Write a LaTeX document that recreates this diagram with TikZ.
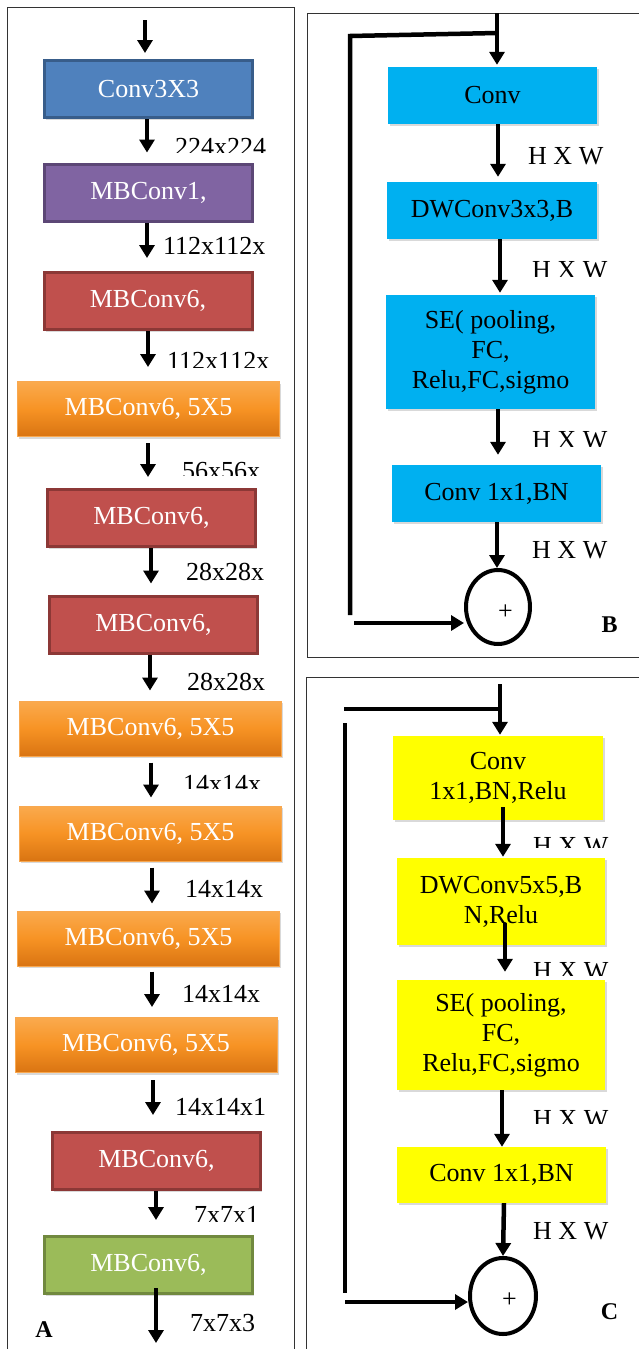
\documentclass[tikz,border=0pt]{standalone}
\usepackage{fontspec}
\setmainfont{Liberation Serif}
\usetikzlibrary{arrows.meta,shadows,shapes.geometric,calc}
\definecolor{abluef}{HTML}{4F81BD}\definecolor{abluel}{HTML}{385D8A}
\definecolor{apurf}{HTML}{8064A2}\definecolor{apurl}{HTML}{5C4776}
\definecolor{aredf}{HTML}{C0504D}\definecolor{aredl}{HTML}{8C3836}
\definecolor{agrnf}{HTML}{9BBB59}\definecolor{agrnl}{HTML}{71893F}
\definecolor{otop}{HTML}{FAAA4E}\definecolor{omid}{HTML}{F79324}\definecolor{obot}{HTML}{D97412}\definecolor{oline}{HTML}{F8A850}
\definecolor{bcyan}{HTML}{00B0F0}\definecolor{cyel}{HTML}{FFFF00}
\definecolor{framec}{HTML}{333333}
\newcommand{\mylab}[4]{\node[lab] (#1) at (#2,#3) {#4};}
\newcommand{\myclab}[5]{\begin{scope}\clip (#2-10,#3-40) rectangle (#2+140,#4);\node[lab] (#1) at (#2,#3) {#5};\end{scope}}
\begin{document}
\begin{tikzpicture}[x=1pt,y=-1pt,
  every node/.style={font=\fontsize{26}{30}\selectfont},
  frame/.style={draw=framec,line width=1pt},
  shad/.style={drop shadow={opacity=0.3,shadow xshift=1.5pt,shadow yshift=-2pt}},
  sqbox/.style={shad,line width=3pt,inner sep=0pt,text=white,minimum width=208pt,minimum height=57pt},
  bluebox/.style={sqbox,fill=abluef,draw=abluel},
  purbox/.style={sqbox,fill=apurf,draw=apurl},
  redbox/.style={sqbox,fill=aredf,draw=aredl},
  grnbox/.style={sqbox,fill=agrnf,draw=agrnl},
  orbox/.style={shad,top color=otop,bottom color=obot,middle color=omid,draw=oline,line width=1pt,inner sep=0pt,text=white,minimum width=262pt,minimum height=55pt},
  cyanbox/.style={shad,fill=bcyan,inner sep=0pt,align=center,minimum width=209pt,minimum height=57pt},
  yelbox/.style={shad,fill=cyel,inner sep=0pt,align=center,minimum width=209pt,minimum height=57pt},
  sumnode/.style={draw,ellipse,line width=4pt,inner sep=0pt},
  plusnode/.style={font=\fontsize{26}{30}\selectfont,inner sep=0pt},
  lab/.style={anchor=west,inner sep=0pt},
  panel/.style={font=\fontsize{24}{28}\selectfont\bfseries,inner sep=0pt},
  arr/.style={line width=4.5pt,-{Triangle[width=15pt,length=13pt]}},
  skipline/.style={line width=4.5pt}
]
\useasboundingbox (0,0) rectangle (639,1349);
% frames
\draw[frame] (7.5,7.5) rectangle (294,1365);
\draw[frame] (307,13) rectangle (655,657);
\draw[frame] (306,677) rectangle (655,1365);

% ---------- Panel A ----------
\node[bluebox] (a1) at (148.5,89) {Conv3X3};
\node[purbox] (a2) at (148.5,192.5) {MBConv1,};
\node[redbox] (a3) at (148,301) {MBConv6,};
\node[orbox] (a4) at (148.5,409) {MBConv6, 5X5};
\node[redbox] (a5) at (151.5,518) {MBConv6,};
\node[redbox] (a6) at (153.5,624.5) {MBConv6,};
\node[orbox] (a7) at (150.5,728.5) {MBConv6, 5X5};
\node[orbox] (a8) at (150.5,833.5) {MBConv6, 5X5};
\node[orbox] (a9) at (148.5,938.5) {MBConv6, 5X5};
\node[orbox] (a10) at (146,1045) {MBConv6, 5X5};
\node[redbox] (a11) at (156.5,1161) {MBConv6,};
\node[grnbox] (a12) at (148.5,1265) {MBConv6,};

\myclab{la1}{175}{147}{152}{224x224}
\mylab{la2}{163}{246}{112x112x}
\myclab{la3}{167}{361}{367}{112x112x}
\myclab{la4}{182}{471}{475}{56x56x}
\mylab{la5}{186}{572}{28x28x}
\mylab{la6}{187}{682}{28x28x}
\myclab{la7}{183}{784}{788}{14x14x}
\mylab{la8}{185}{889}{14x14x}
\mylab{la9}{182}{994}{14x14x}
\mylab{la10}{175}{1107}{14x14x1}
\myclab{la11}{194}{1215}{1221}{7x7x1}
\mylab{la12}{190}{1323.5}{7x7x3}

\coordinate (ain) at (145,20);
\draw[arr] (ain) -- ([xshift=-3.5pt,yshift=6pt]a1.north);
\draw[arr] ([xshift=-1.5pt]a1.south) -- ([xshift=-1.5pt,yshift=10pt]a2.north);
\draw[arr] ([xshift=-1.5pt]a2.south) -- ([xshift=-1pt,yshift=13pt]a3.north);
\draw[arr] (a3.south) -- ([xshift=-0.5pt,yshift=14pt]a4.north);
\draw[arr] ([xshift=-0.5pt,yshift=-6pt]a4.south) -- ([xshift=-3.5pt,yshift=11pt]a5.north);
\draw[arr] ([xshift=-0.5pt]a5.south) -- ([xshift=-2.5pt,yshift=11pt]a6.north);
\draw[arr] ([xshift=-3.5pt]a6.south) -- ([xshift=-0.5pt,yshift=10pt]a7.north);
\draw[arr] ([xshift=0.5pt,yshift=-6pt]a7.south) -- ([xshift=0.5pt,yshift=8pt]a8.north);
\draw[arr] ([xshift=1.5pt,yshift=-6pt]a8.south) -- ([xshift=3.5pt,yshift=7pt]a9.north);
\draw[arr] ([xshift=3.5pt,yshift=-5pt]a9.south) -- ([xshift=6pt,yshift=10pt]a10.north);
\draw[arr] ([xshift=7pt,yshift=-7pt]a10.south) -- ([xshift=-3.5pt,yshift=16pt]a11.north);
\draw[arr] ([xshift=-0.5pt]a11.south) -- ([xshift=7.5pt,yshift=15pt]a12.north);
\coordinate (aout) at (156,1343);
\draw[arr] ([xshift=7.5pt,yshift=7pt]a12.south) -- (aout);
\node[panel] (pA) at (44,1330) {A};

% ---------- Panel B ----------
\node[cyanbox] (b1) at (492.5,95.5) {Conv};
\node[cyanbox,minimum width=210pt] (b2) at (492,210.5) {DWConv3x3,B};
\node[cyanbox,minimum height=114pt] (b3) at (490.5,352) {SE( pooling,\\FC,\\Relu,FC,sigmo};
\node[cyanbox] (b4) at (496.5,493.5) {Conv 1x1,BN};
\node[sumnode,minimum width=64pt,minimum height=74pt] (bs) at (498,607) {};
\node[plusnode] (bp) at (505.5,612.5) {+};

\myclab{lb1}{528}{156.5}{200}{H X W}
\myclab{lb2}{532}{270.5}{276}{H X W}
\myclab{lb3}{532}{440.5}{446}{H X W}
\mylab{lb4}{532}{550}{H X W}

\coordinate (bin) at (497,13);
\draw[arr] (bin) -- ([xshift=4.5pt,yshift=2pt]b1.north);
\draw[arr] ([xshift=5.5pt]b1.south) -- ([xshift=6pt,yshift=5pt]b2.north);
\draw[arr] ([xshift=8pt]b2.south) -- ([xshift=9.5pt,yshift=2pt]b3.north);
\draw[arr] ([xshift=7.5pt]b3.south) -- ([xshift=1.5pt,yshift=10pt]b4.north);
\draw[arr] ([xshift=0.5pt]b4.south) -- ([xshift=-1pt]bs.north);
\coordinate (bj) at (497,33);
\coordinate (bc) at (350,36);
\coordinate (bv) at (350,615);
\draw[skipline] (bj) -- (bc) -- (bv);
\coordinate (bh) at (354,623);
\draw[arr] (bh) -- (bs.west |- bh);
\node[panel] (pB) at (609.5,624.5) {B};

% ---------- Panel C ----------
\node[yelbox,minimum width=210pt,minimum height=84pt] (c1) at (498,778) {Conv\\1x1,BN,Relu};
\node[yelbox,minimum width=208pt,minimum height=87pt] (c2) at (501,901.5) {DWConv5x5,B\\N,Relu};
\node[yelbox,minimum width=208pt,minimum height=110pt] (c3) at (501,1035) {SE( pooling,\\FC,\\Relu,FC,sigmo};
\node[yelbox,minimum height=56pt] (c4) at (501.5,1175) {Conv 1x1,BN};
\node[sumnode,minimum width=66pt,minimum height=76pt] (cs) at (503,1296) {};
\node[plusnode] (cp) at (509.5,1300) {+};

\myclab{lc1}{533}{846}{847}{H X W}
\myclab{lc2}{533}{971.5}{975}{H X W}
\myclab{lc3}{533}{1119.5}{1123}{H X W}
\mylab{lc4}{533}{1231.5}{H X W}

\coordinate (cin) at (500,684);
\draw[arr] (cin) -- ([xshift=2pt,yshift=1pt]c1.north);
\draw[arr] ([xshift=5pt,yshift=13pt]c1.south) -- ([xshift=2pt,yshift=1pt]c2.north);
\draw[arr] ([xshift=4pt,yshift=22pt]c2.south) -- ([xshift=4pt,yshift=8pt]c3.north);
\draw[arr] ([xshift=1pt]c3.south) -- ([xshift=0.5pt]c4.north);
\draw[arr] ([xshift=2.5pt]c4.south) -- (cs.north);
\coordinate (cj) at (500,709);
\coordinate (cl) at (344,709);
\draw[skipline] (cj) -- (cl);
\coordinate (cv1) at (345,723);
\coordinate (cv2) at (345,1293);
\draw[skipline] (cv1) -- (cv2);
\coordinate (ch) at (345,1302);
\draw[arr] (ch) -- (cs.west |- ch);
\node[panel] (pC) at (609.5,1312) {C};
\end{tikzpicture}
\end{document}
